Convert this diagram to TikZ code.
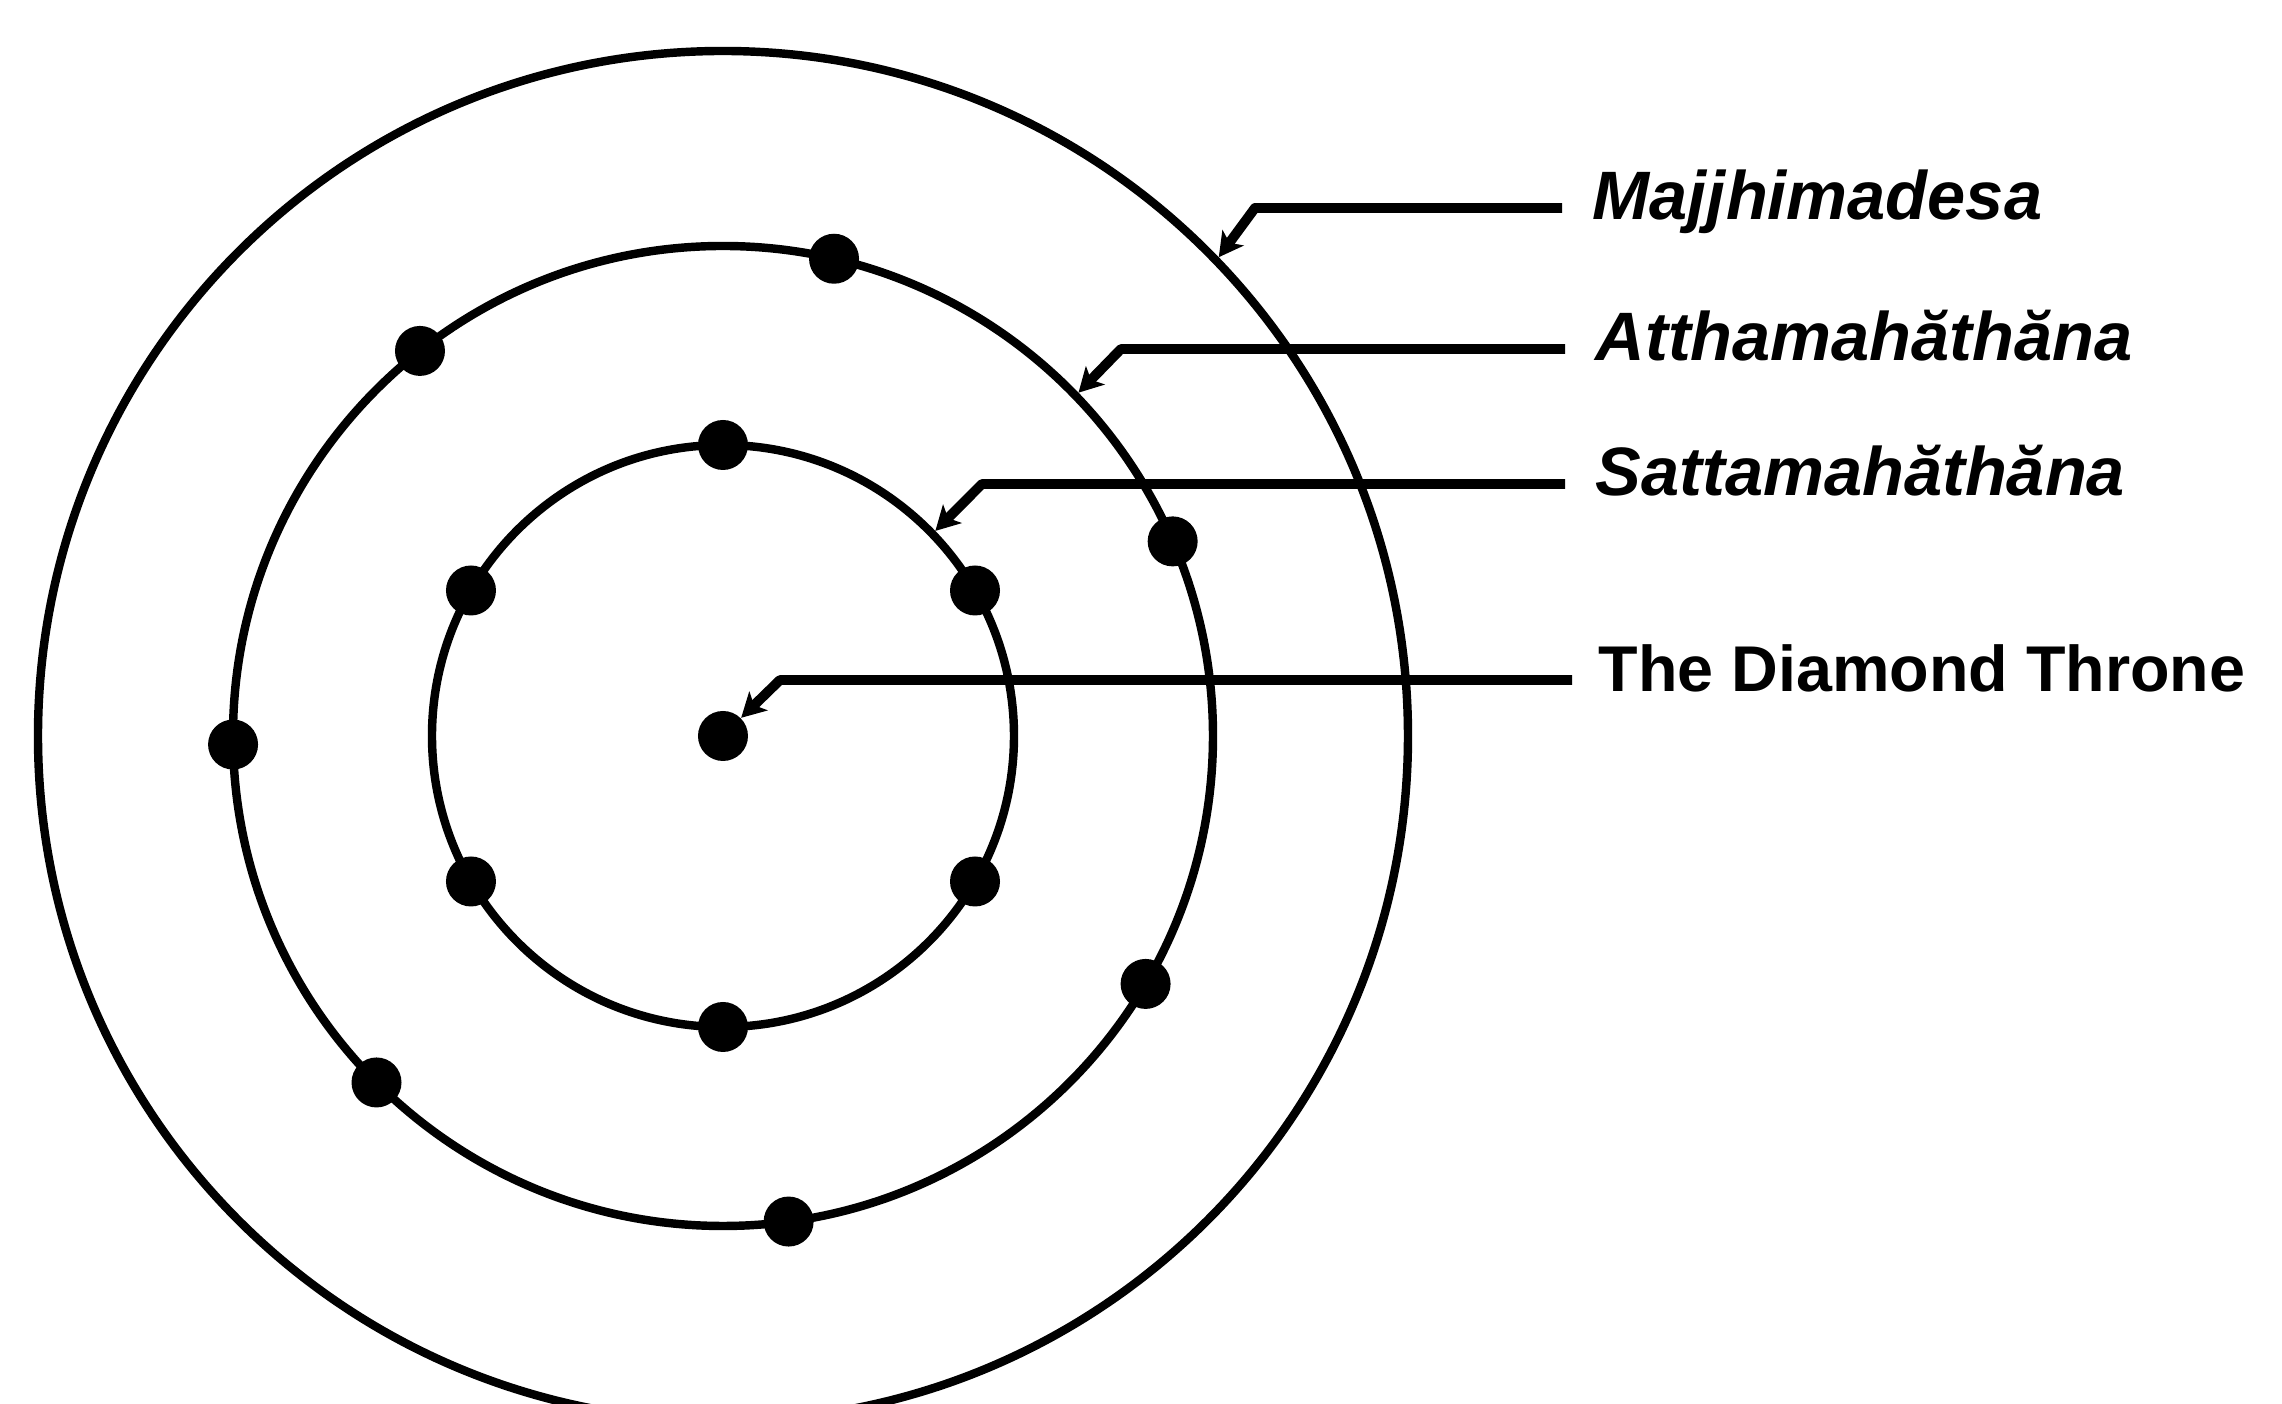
\documentclass[tikz,border=0pt]{standalone}
\usepackage{fontspec}
\setmainfont{Liberation Sans}
\usepackage{tikz}
\usetikzlibrary{arrows.meta,positioning}

\begin{document}
\begin{tikzpicture}[
  ring/.style={draw,circle,line width=2.4pt,inner sep=0pt},
  dot/.style={circle,fill,inner sep=0pt,minimum size=5mm},
  lead/.style={-{Stealth[length=2.4mm,width=2.6mm,inset=0.6mm]},line width=2.8pt,line join=round},
  lbl/.style={anchor=west,inner xsep=3mm,inner ysep=0pt,text height=2.4mm,text depth=0pt,
    font=\fontsize{19.5}{23}\selectfont\bfseries\itshape}
]
\useasboundingbox (-7.23,-6.68) rectangle (15.59,7.36);

\node[ring,minimum size=13.70cm] (outer) at (0,0) {};
\node[ring,minimum size=9.80cm] (middle) at (0,0) {};
\node[ring,minimum size=5.82cm] (inner) at (0,0) {};

\node[dot] (throne) at (0,0) {};
\foreach \a [count=\i] in {30,90,150,210,270,330}
  \node[dot] (s\i) at (\a:2.91) {};
\foreach \a [count=\i] in {23.4,76.9,128.2,181,225,277.7,329.6}
  \node[dot] (m\i) at (\a:4.90) {};

\node[lbl] (lmaj) at (8.39,5.28) {Majjhimadesa};
\node[lbl] (latt) at (8.42,3.87) {Atthamahăthăna};
\node[lbl] (lsat) at (8.42,2.52) {Sattamahăthăna};
\node[lbl,inner xsep=2.6mm,font=\fontsize{18.4}{22}\selectfont\bfseries] (lthr) at (8.49,0.56) {The Diamond Throne};

\draw[lead] (lmaj.west) -- (5.32,5.28) -- (outer.44.3);
\draw[lead] (latt.west) -- (3.98,3.87) -- (middle.44.7);
\draw[lead] (lsat.west) -- (2.59,2.52) -- (inner.44);
\draw[lead] (lthr.west) -- (0.57,0.56) -- (throne.45);
\end{tikzpicture}
\end{document}
